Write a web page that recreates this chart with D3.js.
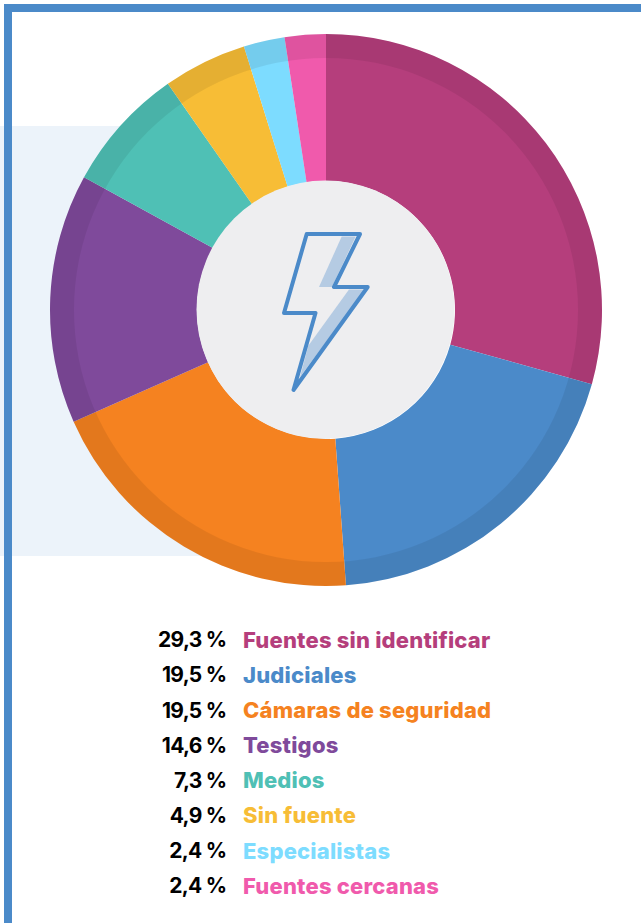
<!DOCTYPE html>
<html>
<head>
<meta charset="utf-8">
<script src="https://cdn.jsdelivr.net/npm/d3@7"></script>
<style>
  html, body { margin: 0; padding: 0; background: #fff; }
  svg { display: block; }
</style>
</head>
<body>
<svg width="641" height="923"></svg>
<script>
const categories = ["Fuentes sin identificar", "Judiciales", "Cámaras de seguridad", "Testigos", "Medios", "Sin fuente", "Especialistas", "Fuentes cercanas"];
const values = [29.3, 19.5, 19.5, 14.6, 7.3, 4.9, 2.4, 2.4];
const valueLabels = ["29,3 %", "19,5 %", "19,5 %", "14,6 %", "7,3 %", "4,9 %", "2,4 %", "2,4 %"];
const colors = ["#b53e7c", "#4b8ac9", "#f58220", "#7f4a9b", "#4fc0b5", "#f7bd36", "#7ddcff", "#f05aac"];

const svg = d3.select("svg");
const width = +svg.attr("width");
const blue = "#4b8ac9";

// pale panel behind the pie
svg.append("rect")
	.attr("x", 0).attr("y", 126)
	.attr("width", 330).attr("height", 430)
	.attr("fill", "#ecf3fa");

// frame, open on the right and at the bottom
svg.append("rect").attr("x", 4).attr("y", 4).attr("width", 8).attr("height", 919).attr("fill", blue);
svg.append("rect").attr("x", 4).attr("y", 4).attr("width", width - 4).attr("height", 8).attr("fill", blue);

const cx = 326, cy = 310;
const outerR = 276, ringR = 252, holeR = 129;

const pie = d3.pie().sort(null).value(d => d);
const slices = pie(values);
const sliceArc = d3.arc().innerRadius(holeR).outerRadius(outerR);
const bandArc = d3.arc().innerRadius(ringR).outerRadius(outerR).startAngle(0).endAngle(2 * Math.PI);

const group = svg.append("g").attr("transform", `translate(${cx}, ${cy})`);

group.selectAll("path.slice").data(slices)
	.enter().append("path")
		.attr("class", "slice")
		.attr("d", sliceArc)
		.attr("fill", (d, i) => colors[i]);

// darker outer band, one ring on top of the slices so there is no seam
group.append("path")
	.attr("d", bandArc())
	.attr("fill", "#000")
	.attr("fill-opacity", 0.07);

group.append("circle")
	.attr("cx", -0.5).attr("cy", -0.5)
	.attr("r", holeR)
	.attr("fill", "#eeeef0");

// lightning bolt, drawn in picture coordinates
const line = d3.line();
const bolt = [[306.7, 234], [360, 234], [334, 287], [367.7, 287], [293.5, 390], [315.5, 313], [284, 313]];
const boltShade = [[341.7, 236.5], [355.7, 236.5], [332, 287], [319, 287]];
const boltShade2 = [[349, 289.5], [365, 289.5], [300, 377], [308.3, 345.7]];
svg.append("path").attr("d", line(boltShade) + "Z").attr("fill", "#b5cbe3");
svg.append("path").attr("d", line(boltShade2) + "Z").attr("fill", "#b5cbe3");
svg.append("path").attr("d", line(bolt) + "Z")
	.attr("fill", "none")
	.attr("stroke", blue)
	.attr("stroke-width", 4)
	.attr("stroke-linejoin", "round");

// legend
const rowScale = d3.scalePoint().domain(categories).range([640, 886]);
const legend = svg.append("g")
	.attr("font-family", "Inter, 'Open Sans', sans-serif");

legend.selectAll("text.value").data(valueLabels)
	.enter().append("text")
		.attr("class", "value")
		.attr("x", 226.5)
		.attr("y", (d, i) => rowScale(categories[i]))
		.attr("dy", "0.35em")
		.attr("text-anchor", "end")
		.attr("font-size", 21)
		.attr("font-weight", 700)
		.attr("letter-spacing", -0.7)
		.attr("fill", "#000")
		.text(d => d);

legend.selectAll("text.name").data(categories)
	.enter().append("text")
		.attr("class", "name")
		.attr("x", 243)
		.attr("y", d => rowScale(d))
		.attr("dy", "0.35em")
		.attr("font-size", 22)
		.attr("font-weight", 800)
		.attr("letter-spacing", 0.2)
		.attr("fill", (d, i) => colors[i])
		.text(d => d);
</script>
</body>
</html>
